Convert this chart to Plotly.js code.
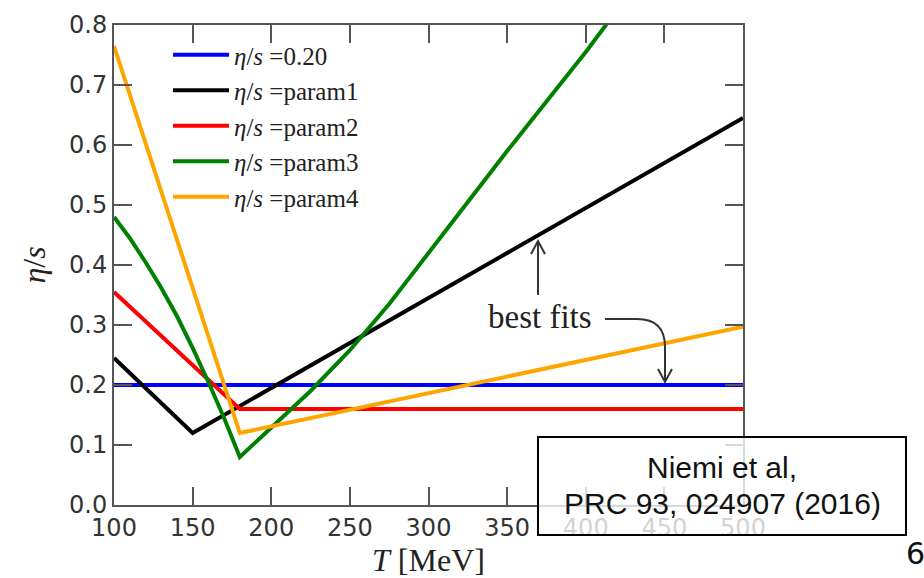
<!DOCTYPE html>
<html>
<head>
<meta charset="utf-8">
<script src="https://cdn.plot.ly/plotly-3.0.1.min.js"></script>
<style>
  html, body { margin: 0; padding: 0; background: #fff; }
  #chart { width: 924px; height: 578px; }
</style>
</head>
<body>
<div id="chart"></div>
<script>
// Temperature-dependent shear viscosity over entropy, eta/s(T)
const seriesNames = ['<i>η</i>/<i>s</i> =0.20', '<i>η</i>/<i>s</i> =param1', '<i>η</i>/<i>s</i> =param2',
                     '<i>η</i>/<i>s</i> =param3', '<i>η</i>/<i>s</i> =param4'];
const seriesColors = ['#0000ff', '#000000', '#ff0000', '#008000', '#ffa500'];

const tConst = [100, 500];
const etaConst = [0.20, 0.20];

const tParam1 = [100, 150, 500];
const etaParam1 = [0.245, 0.12, 0.645];

const tParam2 = [100, 180, 500];
const etaParam2 = [0.355, 0.16, 0.16];

const tParam3 = [100, 110, 120, 130, 140, 150, 160, 170, 180, 200, 225, 250, 275, 300, 350, 400, 420];
const etaParam3 = [0.48, 0.445, 0.405, 0.362, 0.315, 0.262, 0.205, 0.145, 0.08, 0.128, 0.19, 0.258, 0.335, 0.42, 0.59, 0.755, 0.825];

const tParam4 = [100, 180, 500];
const etaParam4 = [0.765, 0.12, 0.297];

const xTicks = [100, 150, 200, 250, 300, 350, 400, 450, 500];
const yTicks = [0.0, 0.1, 0.2, 0.3, 0.4, 0.5, 0.6, 0.7, 0.8];

// plot-area frame in pixels (used to place decorations in paper units)
const W = 924, H = 578;
const PL = 114, PR = 743, PT = 25, PB = 505;
const px = x => (x - PL) / (PR - PL);
const py = y => (PB - y) / (PB - PT);

const xs = [tConst, tParam1, tParam2, tParam3, tParam4];
const ys = [etaConst, etaParam1, etaParam2, etaParam3, etaParam4];

const traces = xs.map((x, i) => ({
  type: 'scatter',
  mode: 'lines',
  x: x,
  y: ys[i],
  name: seriesNames[i],
  legendgroup: 'g' + i,
  line: { color: seriesColors[i], width: 4 },
  hoverinfo: 'skip'
}));

const spine = '#555555';
const serif = 'Liberation Serif, DejaVu Serif, serif';

const axisCommon = {
  showgrid: false,
  zeroline: false,
  showline: true,
  linecolor: spine,
  linewidth: 2,
  mirror: 'allticks',
  ticks: 'inside',
  ticklen: 18,
  tickwidth: 2,
  tickcolor: spine,
  tickfont: { family: 'DejaVu Sans, sans-serif', size: 24, color: '#333333' }
};

const layout = {
  width: W,
  height: H,
  margin: { l: PL, r: W - PR, t: PT, b: H - PB },
  paper_bgcolor: '#ffffff',
  plot_bgcolor: '#ffffff',
  showlegend: true,
  legend: {
    x: px(168), y: py(32), xanchor: 'left', yanchor: 'top',
    bgcolor: 'rgba(0,0,0,0)',
    font: { family: serif, size: 25, color: '#222222' },
    itemwidth: 56,
    tracegroupgap: 0
  },
  xaxis: Object.assign({}, axisCommon, {
    range: [100, 500],
    tickvals: xTicks,
    ticktext: xTicks.map(String),
    title: { text: '<i>T</i> [MeV]', font: { family: serif, size: 32, color: '#222222' }, standoff: 6 }
  }),
  yaxis: Object.assign({}, axisCommon, {
    range: [0, 0.8],
    tickvals: yTicks,
    ticktext: yTicks.map(v => v.toFixed(1)),
    title: { text: '<i>η</i>/<i>s</i>', font: { family: serif, size: 32, color: '#222222' }, standoff: 14 }
  }),
  shapes: [
    // straight arrow up to the param1 line
    { type: 'line', xref: 'paper', yref: 'paper', x0: px(538), y0: py(295), x1: px(538), y1: py(241),
      line: { color: '#333333', width: 2 } },
    { type: 'path', xref: 'paper', yref: 'paper',
      path: `M${px(531)},${py(254)} L${px(538)},${py(241)} L${px(545)},${py(254)}`,
      line: { color: '#333333', width: 2 } },
    // curved arrow down to the param4 line
    { type: 'path', xref: 'paper', yref: 'paper',
      path: `M${px(605)},${py(319)} L${px(637)},${py(319)} Q${px(665)},${py(319)} ${px(665)},${py(347)} L${px(665)},${py(382)}`,
      line: { color: '#333333', width: 2 } },
    { type: 'path', xref: 'paper', yref: 'paper',
      path: `M${px(658)},${py(369)} L${px(665)},${py(382)} L${px(672)},${py(369)}`,
      line: { color: '#333333', width: 2 } },
    // reference box
    { type: 'rect', xref: 'paper', yref: 'paper', layer: 'above',
      x0: px(538), x1: px(906), y0: py(535), y1: py(437),
      fillcolor: 'rgba(255,255,255,0.78)',
      line: { color: '#000000', width: 2 } }
  ],
  annotations: [
    { xref: 'paper', yref: 'paper', x: px(540), y: py(317), xanchor: 'center', yanchor: 'middle',
      text: 'best fits', showarrow: false, font: { family: serif, size: 33, color: '#222222' } },
    { xref: 'paper', yref: 'paper', x: px(722), y: py(467), xanchor: 'center', yanchor: 'middle',
      text: 'Niemi et al,', showarrow: false,
      font: { family: 'Liberation Sans, Arial, sans-serif', size: 30, color: '#111111' } },
    { xref: 'paper', yref: 'paper', x: px(722), y: py(503), xanchor: 'center', yanchor: 'middle',
      text: 'PRC 93, 024907 (2016)', showarrow: false,
      font: { family: 'Liberation Sans, Arial, sans-serif', size: 30, color: '#111111' } },
    { xref: 'paper', yref: 'paper', x: px(904), y: py(553), xanchor: 'left', yanchor: 'middle',
      text: '6', showarrow: false,
      font: { family: 'DejaVu Sans, sans-serif', size: 30, color: '#111111' } }
  ]
};

Plotly.newPlot('chart', traces, layout, { staticPlot: true, displayModeBar: false });
</script>
</body>
</html>
